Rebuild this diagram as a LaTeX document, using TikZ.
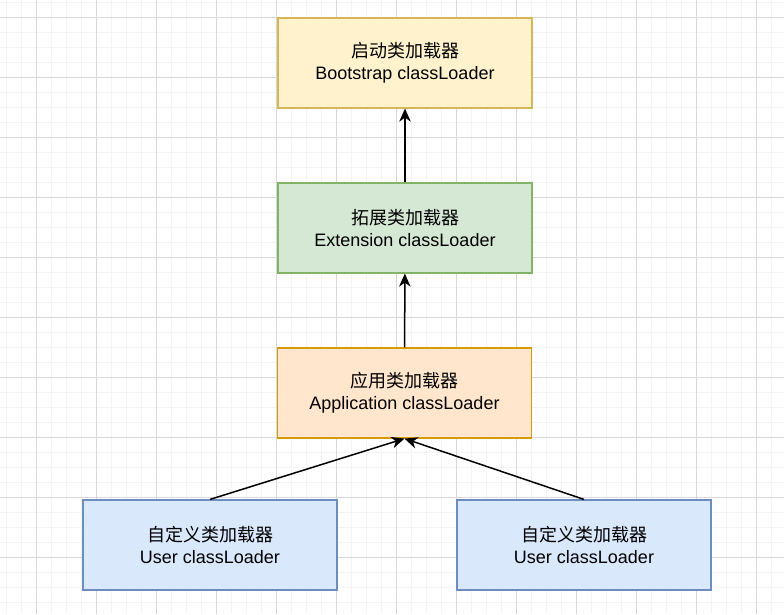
\documentclass[tikz,border=0pt]{standalone}
\usepackage{fontspec}
\setmainfont{Liberation Sans}
\newfontfamily\cjk{Noto Sans CJK SC}
\usetikzlibrary{arrows.meta, positioning}

\definecolor{bootFill}{HTML}{FFF2CC}
\definecolor{bootLine}{HTML}{D6B656}
\definecolor{extFill}{HTML}{D5E8D4}
\definecolor{extLine}{HTML}{82B366}
\definecolor{appFill}{HTML}{FFE6CC}
\definecolor{appLine}{HTML}{D79B00}
\definecolor{userFill}{HTML}{DAE8FC}
\definecolor{userLine}{HTML}{6C8EBF}
\definecolor{gridMinor}{HTML}{F4F4F4}
\definecolor{gridMajor}{HTML}{D8D8D8}

\begin{document}
\begin{tikzpicture}[
	x=1pt, y=-1pt,
	LoaderNode/.style={rectangle, draw, line width=1.2pt,
		minimum width=254pt, minimum height=90pt, align=center,
		font=\fontsize{18}{21.6}\selectfont},
	MinorLine/.style={gridMinor, line width=1pt},
	MajorLine/.style={gridMajor, line width=1pt},
	LoadArrow/.style={-{Stealth[length=13pt, width=11.5pt, inset=4pt]}, line width=1.5pt}
	]

\useasboundingbox (0,0) rectangle (784,614);
\fill[white] (0,0) rectangle (784,614);

% grid
\foreach \gx in {0,...,51}
	\draw[MinorLine] ({6.7+15*\gx},0) -- ({6.7+15*\gx},614);
\foreach \gy in {0,...,40}
	\draw[MinorLine] (0,{2.7+15*\gy}) -- (784,{2.7+15*\gy});
\foreach \gx in {0,...,12}
	\draw[MajorLine] ({36.7+60*\gx},0) -- ({36.7+60*\gx},614);
\foreach \gy in {0,...,9}
	\draw[MajorLine] (0,{17.7+60*\gy}) -- (784,{17.7+60*\gy});

\node [LoaderNode, draw=bootLine, fill=bootFill] (boot) at (405,63) {{\cjk 启动类加载器}\\Bootstrap classLoader};
\node [LoaderNode, draw=extLine, fill=extFill] (ext) at (405,228) {{\cjk 拓展类加载器}\\Extension classLoader};
\node [LoaderNode, draw=appLine, fill=appFill] (app) at (404.5,393) {{\cjk 应用类加载器}\\Application classLoader};
\node [LoaderNode, draw=userLine, fill=userFill] (userA) at (210,545) {{\cjk 自定义类加载器}\\User classLoader};
\node [LoaderNode, draw=userLine, fill=userFill] (userB) at (584,545) {{\cjk 自定义类加载器}\\User classLoader};

\draw [LoadArrow] (ext) -- (boot);
\draw [LoadArrow] (app) -- (ext);
\draw [LoadArrow] (userA.north) -- (app.south);
\draw [LoadArrow] (userB.north) -- (app.south);

\end{tikzpicture}
\end{document}
